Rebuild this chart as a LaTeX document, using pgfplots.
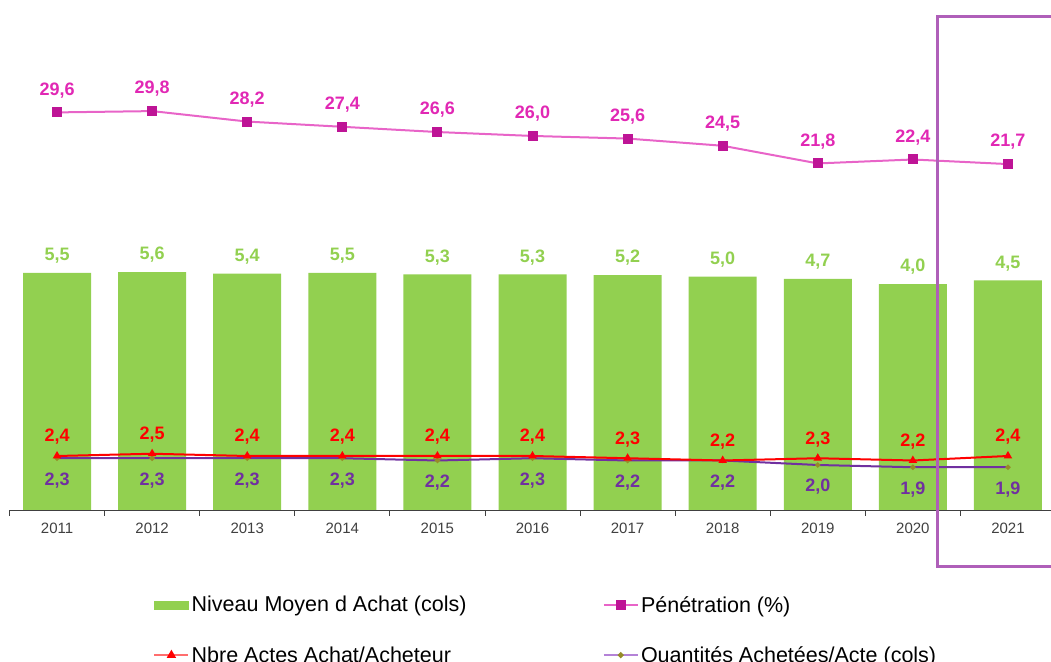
\documentclass[border=0pt]{standalone}
\usepackage{pgfplots}
\pgfplotsset{compat=1.18}
\usepackage{fontspec}
\setmainfont{Liberation Sans}
\definecolor{barG}{RGB}{146,208,80}
\definecolor{penL}{RGB}{232,100,200}
\definecolor{penM}{RGB}{190,20,150}
\definecolor{penT}{RGB}{225,40,180}
\definecolor{redL}{RGB}{255,0,0}
\definecolor{redLeg}{RGB}{255,110,110}
\definecolor{purL}{RGB}{112,48,160}
\definecolor{purLeg}{RGB}{180,130,215}
\definecolor{frameC}{RGB}{175,95,185}
\definecolor{tickC}{RGB}{64,64,64}
\definecolor{oliveM}{RGB}{150,140,40}

\pgfplotsset{
  base/.style={
    scale only axis, width=1046pt, height=500pt,
    at={(9.5pt,151pt)}, anchor=south west,
    xmin=-0.5, xmax=10.5,
    clip=false,
    /pgf/number format/use comma,
    /pgf/number format/fixed,
    /pgf/number format/fixed zerofill,
    /pgf/number format/precision=1,
    /pgf/number format/assume math mode=true,
    nodes near coords,
    every node near coord/.append style={anchor=center, font=\fontsize{18}{20}\selectfont\bfseries},
  },
  barleg/.style={legend image code/.code={\fill[barG] (0pt,-4pt) rectangle (34pt,4pt);}},
}
\pgfplotsset{legend image code/.code={\draw[mark repeat=2,mark phase=2,#1] plot coordinates {(0pt,0pt) (17pt,0pt) (34pt,0pt)};}}

\begin{document}
\begin{tikzpicture}[x=1pt,y=1pt]
\useasboundingbox (0,0) rectangle (1051,661);
% bars: Niveau Moyen d'Achat
\begin{axis}[base,
  axis y line=none, axis x line*=bottom,
  axis line style={tickC, line width=0.8pt, -},
  ymin=0, ymax=66.667,
  y filter/.expression={y+26.13},
  point meta=rawy,
  ybar, bar width=68pt, bar shift=0pt,
  xtick={0,1,2,3,4,5,6,7,8,9,10},
  xticklabels={2011,2012,2013,2014,2015,2016,2017,2018,2019,2020,2021},
  major tick length=0pt,
  minor xtick={-0.5,0.5,1.5,2.5,3.5,4.5,5.5,6.5,7.5,8.5,9.5,10.5},
  minor tick length=6pt, tick align=outside,
  minor tick style={tickC, line width=0.8pt},
  xticklabel style={font=\fontsize{15}{18}\selectfont, text=tickC, yshift=-9pt},
  every node near coord/.append style={text=barG, yshift=17pt},
]
\addplot[fill=barG, draw=none] coordinates {(0,5.5) (1,5.6) (2,5.4) (3,5.5) (4,5.3) (5,5.3) (6,5.2) (7,5.0) (8,4.7) (9,4.0) (10,4.5)};
\end{axis}
% Penetration
\begin{axis}[base, hide axis, ymin=-31.19, ymax=45.26,
  every node near coord/.append style={text=penT, yshift=22pt}]
\addplot[penL, line width=2pt, mark=square*, mark size=4pt, mark options={fill=penM, draw=penM}]
  coordinates {(0,29.6) (1,29.8) (2,28.2) (3,27.4) (4,26.6) (5,26.0) (6,25.6) (7,24.5) (8,21.8) (9,22.4) (10,21.7)};
\end{axis}
% Quantites achetees / acte
\begin{axis}[base, hide axis, ymin=0, ymax=22.22,
  every node near coord/.append style={text=purL, yshift=-22pt}]
\addplot[purL, line width=2pt, mark=*, mark size=1.5pt, mark options={fill=oliveM, draw=oliveM}]
  coordinates {(0,2.3) (1,2.3) (2,2.3) (3,2.3) (4,2.2) (5,2.3) (6,2.2) (7,2.2) (8,2.0) (9,1.9) (10,1.9)};
\end{axis}
% Nbre actes achat / acheteur + legend
\begin{axis}[base, hide axis, ymin=0, ymax=22.22,
  every node near coord/.append style={text=redL, yshift=19pt},
  legend columns=2,
  legend cell align=left,
  legend style={at={(0.1343,-0.164)}, anchor=north west, draw=none, fill=none,
    font=\fontsize{21.5}{25}\selectfont, row sep=29pt,
    /tikz/every even column/.append style={column sep=134pt}},
]
\addlegendimage{barleg}
\addlegendentry{Niveau Moyen d Achat (cols)}
\addlegendimage{penL, line width=2.5pt, mark=square*, mark size=4pt, mark options={fill=penM, draw=penM}}
\addlegendentry{Pénétration (\%)}
\addlegendimage{redLeg, line width=2.5pt, mark=triangle*, mark size=3pt, mark options={fill=redL, draw=redL}}
\addlegendentry{Nbre Actes Achat/Acheteur}
\addlegendimage{purLeg, line width=2.5pt, mark=*, mark size=1.5pt, mark options={fill=oliveM, draw=oliveM}}
\addlegendentry{Quantités Achetées/Acte (cols)}
\addplot[redL, line width=2pt, mark=triangle*, mark size=3pt, mark options={fill=redL, draw=redL}, forget plot]
  coordinates {(0,2.4) (1,2.5) (2,2.4) (3,2.4) (4,2.4) (5,2.4) (6,2.3) (7,2.2) (8,2.3) (9,2.2) (10,2.4)};
\end{axis}
\draw[frameC, line width=3pt, line join=miter] (1070,644) -- (937,644) -- (937,95) -- (1070,95);
\end{tikzpicture}
\end{document}
